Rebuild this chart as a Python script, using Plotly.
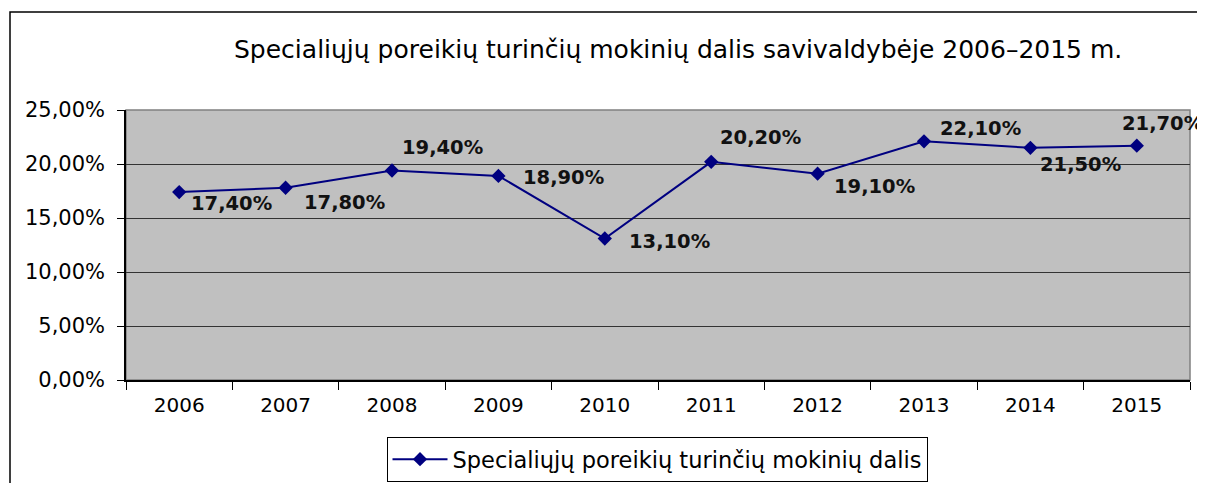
import plotly.graph_objects as go

years = ["2006", "2007", "2008", "2009", "2010", "2011", "2012", "2013", "2014", "2015"]
values = [17.4, 17.8, 19.4, 18.9, 13.1, 20.2, 19.1, 22.1, 21.5, 21.7]
labels = ["17,40%", "17,80%", "19,40%", "18,90%", "13,10%", "20,20%", "19,10%", "22,10%", "21,50%", "21,70%"]
ytick_vals = [0, 5, 10, 15, 20, 25]
ytick_text = ["0,00%", "5,00%", "10,00%", "15,00%", "20,00%", "25,00%"]
series_name = "Specialiųjų poreikių turinčių mokinių dalis"
title_text = "Specialiųjų poreikių turinčių mokinių dalis savivaldybėje 2006–2015 m."

# label offsets (pixels) relative to each marker
label_dx = [10, 16, 8, 23, 22, 7, 14, 14, 8, -17]
label_dy = [-11, -15, 23, -2, -3, 24, -13, 13, -17, 22]

FONT = "DejaVu Sans, Liberation Sans, Arial, sans-serif"
OFF = 8  # page body margin
L, T = 118, 102
W, H = 1197, 475
PW, PH = 1064, 270
R = W - L - PW
B = H - T - PH

def px(xpage):
    return (xpage - OFF - L) / PW

def py(ypage):
    return (H - B - (ypage - OFF)) / PH

def cx(xpage):
    return (xpage - OFF) / W

def cy(ypage):
    return 1 - (ypage - OFF) / H

fig = go.Figure()
fig.add_trace(go.Scatter(
    x=years, y=values, mode="lines+markers", name=series_name,
    line=dict(color="#000080", width=2),
    marker=dict(symbol="diamond", size=11, color="#000080"),
    cliponaxis=False,
))

for i, (v, lab, dx, dy) in enumerate(zip(values, labels, label_dx, label_dy)):
    fig.add_annotation(x=i, y=v, xref="x", yref="y", text="<b>" + lab + "</b>", showarrow=False,
                       xanchor="left", yanchor="middle", xshift=dx, yshift=dy,
                       font=dict(family=FONT, size=19.5, color="#111111"))

fig.add_annotation(x=px(678), y=py(50), xref="paper", yref="paper", text=title_text,
                   showarrow=False, xanchor="center", yanchor="middle",
                   font=dict(family=FONT, size=25, color="#000000"))

# outer chart border
fig.add_shape(type="rect", xref="paper", yref="paper",
              x0=px(10), x1=px(1230), y0=py(510), y1=py(12),
              line=dict(color="#000000", width=1.5), layer="below")
# plot area border (gray)
fig.add_shape(type="rect", xref="paper", yref="paper", x0=0, x1=1, y0=0, y1=1,
              line=dict(color="#808080", width=1.5), layer="below")

fig.update_layout(
    width=W, height=H,
    margin=dict(l=L, r=R, t=T, b=B, autoexpand=False),
    paper_bgcolor="white", plot_bgcolor="#C0C0C0",
    font=dict(family=FONT, color="#000000"),
    showlegend=True,
    legend=dict(xref="container", yref="container",
                x=cx(657), xanchor="center", y=cy(437), yanchor="top",
                orientation="v", bordercolor="#000000", borderwidth=1,
                bgcolor="white", itemwidth=55, tracegroupgap=0,
                font=dict(family=FONT, size=22.5, color="#000000")),
    xaxis=dict(type="category", tickson="boundaries", ticks="outside", ticklen=8,
               tickcolor="#000000", showline=True, linecolor="#000000", linewidth=1.5,
               showgrid=False, tickfont=dict(family=FONT, size=20, color="#000000"),
               ticklabelstandoff=6,
               range=[-0.5, 9.5], fixedrange=True, automargin=False),
    yaxis=dict(range=[0, 25], tickvals=ytick_vals, ticktext=ytick_text,
               ticks="outside", ticklen=7, tickcolor="#000000",
               showline=True, linecolor="#000000", linewidth=1.5,
               showgrid=True, gridcolor="#333333", gridwidth=1, zeroline=False,
               ticklabelstandoff=8, automargin=False,
               tickfont=dict(family=FONT, size=21, color="#000000"), fixedrange=True),
)

fig.write_html("out.html")
